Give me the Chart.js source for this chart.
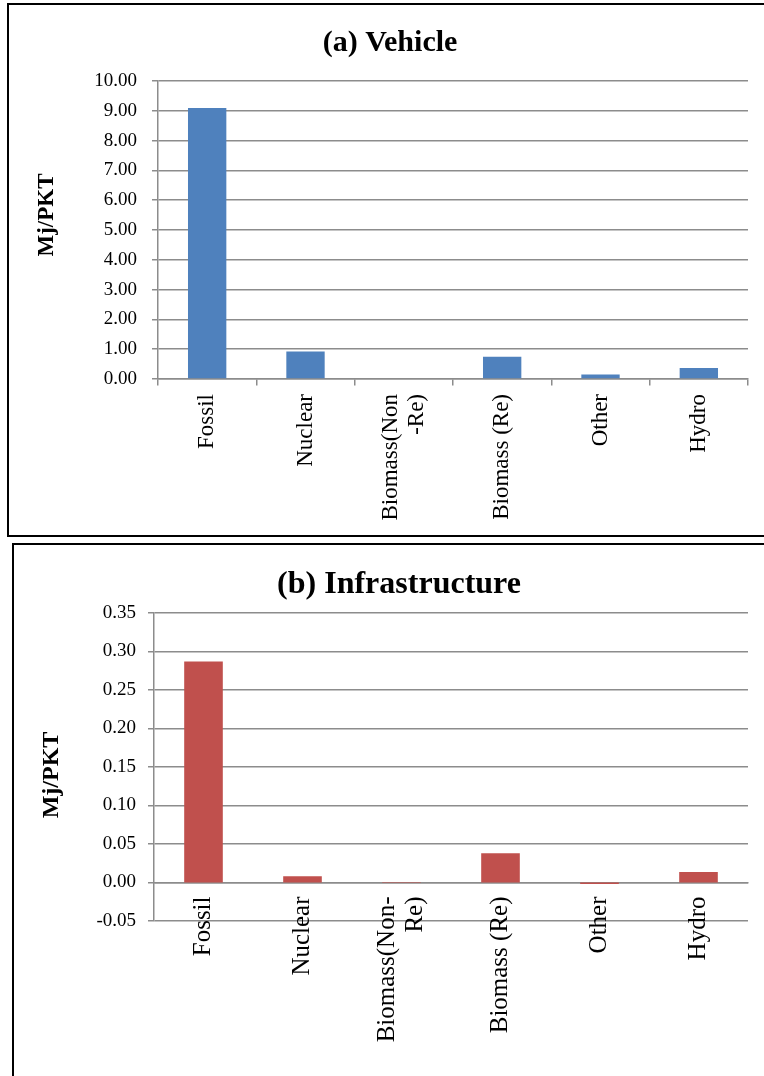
<!DOCTYPE html>
<html>
<head>
<meta charset="utf-8">
<script src="https://cdn.jsdelivr.net/npm/chart.js@4/dist/chart.umd.min.js"></script>
<style>
  html, body { margin: 0; padding: 0; background: #fff; }
  body { position: relative; width: 764px; height: 1076px; overflow: hidden; }
  .panel { position: absolute; border: 2px solid #000; box-sizing: border-box; }
  #panelA { left: 7px; top: 3px; width: 800px; height: 534px; }
  #panelB { left: 12px; top: 543px; width: 800px; height: 600px; }
  canvas { position: absolute; left: 0; }
  #chartA { top: 0; }
  #chartB { top: 540px; }
</style>
</head>
<body>
<div class="panel" id="panelA"></div>
<div class="panel" id="panelB"></div>
<canvas id="chartA" width="764" height="540"></canvas>
<canvas id="chartB" width="764" height="536"></canvas>
<script>
// Energy sources on the category axis
const vehicleCategories = ['Fossil', 'Nuclear', ['Biomass(Non', '-Re)'], 'Biomass (Re)', 'Other', 'Hydro'];
const infraCategories = ['Fossil', 'Nuclear', ['Biomass(Non-', 'Re)'], 'Biomass (Re)', 'Other', 'Hydro'];

// Primary energy per passenger-km (MJ/PKT)
const vehicleValues = [9.09, 0.92, 0, 0.75, 0.155, 0.37];
const infraValues = [0.287, 0.008, 0.0005, 0.038, -0.002, 0.0135];

// Value axis ranges
const vehicleAxis = { min: 0, max: 10, step: 1 };
const infraAxis = { min: -0.05, max: 0.35, step: 0.05 };

const SERIF = "'Liberation Serif', 'Times New Roman', serif";
const GRID = '#8c8c8c';

// Panel heading and rotated value-axis title at fixed spots
const panelText = {
  id: 'panelText',
  afterDraw(chart, args, opts) {
    const ctx = chart.ctx;
    ctx.save();
    ctx.fillStyle = '#000';
    ctx.textAlign = 'center';
    ctx.textBaseline = 'middle';
    ctx.font = `bold ${opts.titleSize}px ${SERIF}`;
    ctx.fillText(opts.title, opts.titleX, opts.titleY);
    ctx.translate(opts.axisX, opts.axisY);
    ctx.rotate(-Math.PI / 2);
    ctx.font = `bold ${opts.axisSize}px ${SERIF}`;
    ctx.fillText(opts.axisTitle, 0, 0);
    ctx.restore();
  }
};

// Centre wrapped category labels on their tick instead of hanging the first line on it
const centerWrapped = {
  id: 'centerWrapped',
  beforeDraw(chart) {
    const scale = chart.scales.x;
    scale.getLabelItems().forEach((item) => {
      if (Array.isArray(item.label) && !item._centered) {
        const lh = item.font.lineHeight;
        item.options.translation[0] -= lh * (item.label.length - 1) / 2;
        item._centered = true;
      }
    });
  }
};

function makeChart(id, cfg) {
  return new Chart(document.getElementById(id), {
    type: 'bar',
    data: {
      labels: cfg.labels,
      datasets: [{
        data: cfg.values,
        backgroundColor: cfg.color,
        borderWidth: 0,
        categoryPercentage: 1,
        barPercentage: 0.39
      }]
    },
    options: {
      responsive: false,
      animation: false,
      layout: { padding: cfg.padding },
      plugins: {
        legend: { display: false },
        tooltip: { enabled: false },
        panelText: cfg.text
      },
      scales: {
        x: {
          position: { y: 0 },
          offset: true,
          grid: {
            offset: true,
            drawOnChartArea: false,
            drawTicks: cfg.xTicks,
            tickLength: 6,
            color: GRID,
            lineWidth: 1.5
          },
          border: { display: true, color: GRID, width: 1.5 },
          ticks: {
            minRotation: 90,
            maxRotation: 90,
            autoSkip: false,
            padding: cfg.xPad,
            color: '#000',
            font: { family: SERIF, size: cfg.xFont, lineHeight: 1.1 }
          }
        },
        y: {
          min: cfg.axis.min,
          max: cfg.axis.max,
          afterFit(scale) { scale.width = cfg.yWidth; },
          grid: { color: GRID, lineWidth: 1.5, tickLength: 6 },
          border: { display: true, color: GRID, width: 1.5 },
          ticks: {
            stepSize: cfg.axis.step,
            padding: cfg.yPad,
            color: '#000',
            font: { family: SERIF, size: cfg.yFont },
            callback: (v) => (Math.abs(v) < 1e-9 ? 0 : Number(v)).toFixed(2)
          }
        }
      }
    },
    plugins: [panelText, centerWrapped]
  });
}

makeChart('chartA', {
  labels: vehicleCategories,
  values: vehicleValues,
  color: '#4F81BD',
  axis: vehicleAxis,
  padding: { left: 25, right: 16, top: 81, bottom: 161 },
  yWidth: 133,
  yPad: 15,
  yFont: 19,
  xPad: 9,
  xFont: 23,
  xTicks: true,
  text: { title: '(a) Vehicle', titleX: 390, titleY: 43, titleSize: 30,
          axisTitle: 'Mj/PKT', axisX: 47, axisY: 215, axisSize: 23 }
});

makeChart('chartB', {
  labels: infraCategories,
  values: infraValues,
  color: '#C0504D',
  axis: infraAxis,
  padding: { left: 30, right: 16, top: 73, bottom: 155 },
  yWidth: 124,
  yPad: 12,
  yFont: 19,
  xPad: 14,
  xFont: 25,
  xTicks: false,
  text: { title: '(b) Infrastructure', titleX: 399, titleY: 45, titleSize: 32,
          axisTitle: 'Mj/PKT', axisX: 52, axisY: 235, axisSize: 24 }
});
</script>
</body>
</html>
